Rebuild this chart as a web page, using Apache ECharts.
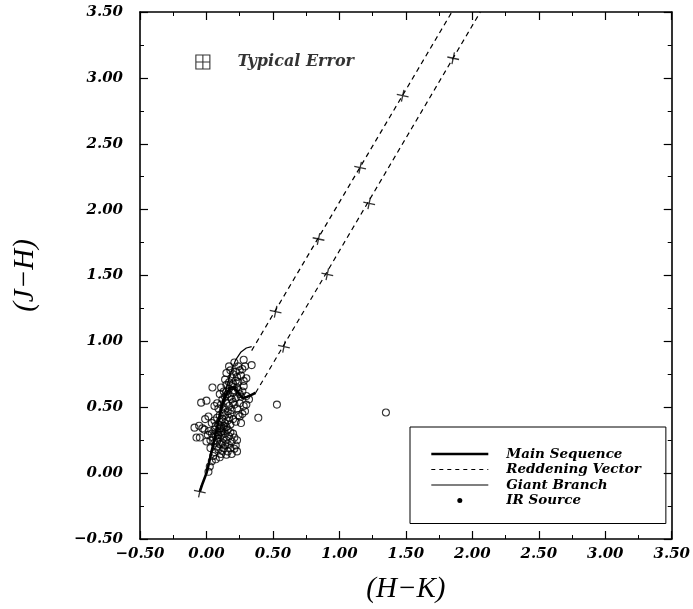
<!DOCTYPE html>
<html>
<head>
<meta charset="utf-8">
<script src="https://cdn.jsdelivr.net/npm/echarts@6/dist/echarts.min.js"></script>
<style>
  html, body { margin: 0; padding: 0; background: #fff; }
  #chart { width: 693px; height: 609px; }
</style>
</head>
<body>
<div id="chart"></div>
<script>
// two-colour diagram (J-H) vs (H-K)
const xTicks = [-0.5, 0, 0.5, 1, 1.5, 2, 2.5, 3, 3.5];
const yTicks = [-0.5, 0, 0.5, 1, 1.5, 2, 2.5, 3, 3.5];

const mainSequence = [
  [-0.05, -0.14], [-0.03, -0.08], [0.0, 0.0], [0.02, 0.08], [0.04, 0.17],
  [0.06, 0.26], [0.08, 0.35], [0.10, 0.44], [0.12, 0.52], [0.15, 0.60],
  [0.18, 0.65], [0.21, 0.65], [0.24, 0.61], [0.27, 0.57], [0.31, 0.58],
  [0.35, 0.60], [0.37, 0.61]
];
const giantBranch = [
  [0.10, 0.48], [0.13, 0.58], [0.16, 0.68], [0.19, 0.78], [0.22, 0.86],
  [0.26, 0.92], [0.30, 0.95], [0.34, 0.96]
];
const reddeningUpper = [[0.34, 0.93], [1.846, 3.5]];
const reddeningLower = [[0.37, 0.61], [2.06, 3.5]];
const reddeningMarks = [
  [0.52, 1.225], [0.843, 1.777], [1.156, 2.318], [1.476, 2.865],
  [0.583, 0.96], [0.909, 1.509], [1.224, 2.048], [1.856, 3.149],
  [-0.05, -0.14]
];
const typicalError = [[-0.027, 3.12]];

const stars = [
  [1.35, 0.46], [0.53, 0.52], [0.39, 0.42], [0.34, 0.82],
  [0.17, 0.81], [0.24, 0.81], [0.28, 0.86], [0.29, 0.81], [0.15, 0.76], [0.22, 0.77],
  [0.28, 0.70], [0.20, 0.75], [0.25, 0.78], [0.19, 0.72], [0.23, 0.73], [0.26, 0.74],
  [0.14, 0.71], [0.21, 0.84], [0.27, 0.79], [0.18, 0.78], [0.24, 0.69], [0.30, 0.72],
  [0.045, 0.65], [0.11, 0.65], [0.13, 0.62], [0.15, 0.67], [0.17, 0.64], [0.19, 0.66],
  [0.21, 0.63], [0.23, 0.65], [0.16, 0.60], [0.18, 0.58], [0.20, 0.61], [0.22, 0.57],
  [0.14, 0.58], [0.12, 0.56], [0.25, 0.60], [0.27, 0.62], [0.26, 0.58], [0.30, 0.585],
  [0.32, 0.56], [0.17, 0.69], [0.20, 0.68], [0.22, 0.70], [0.10, 0.60], [0.24, 0.63],
  [0.28, 0.66], [0.15, 0.62], [0.19, 0.56],
  [-0.04, 0.535], [0.0, 0.55], [0.06, 0.51], [0.09, 0.49], [0.11, 0.52], [0.13, 0.50],
  [0.15, 0.53], [0.17, 0.51], [0.19, 0.48], [0.21, 0.52], [0.12, 0.46], [0.14, 0.44],
  [0.16, 0.47], [0.18, 0.45], [0.23, 0.49], [0.25, 0.53], [0.28, 0.51], [0.30, 0.52],
  [0.29, 0.47], [0.10, 0.44], [0.08, 0.53], [0.20, 0.54], [0.27, 0.45], [0.24, 0.44],
  [0.015, 0.43], [-0.01, 0.41], [0.06, 0.40], [0.08, 0.42], [0.10, 0.39], [0.12, 0.41],
  [0.14, 0.38], [0.16, 0.40], [0.18, 0.37], [0.20, 0.41], [0.22, 0.39], [0.25, 0.43],
  [0.26, 0.38], [0.07, 0.36], [0.09, 0.37], [0.11, 0.355], [0.13, 0.36], [0.15, 0.35],
  [0.17, 0.42], [0.04, 0.38],
  [-0.09, 0.345], [-0.055, 0.36], [-0.03, 0.34], [-0.015, 0.33], [-0.075, 0.27], [-0.05, 0.27],
  [0.02, 0.32], [0.04, 0.30], [0.06, 0.33], [0.08, 0.31], [0.10, 0.34], [0.12, 0.32],
  [0.14, 0.30], [0.16, 0.33], [0.18, 0.31], [0.20, 0.30], [0.05, 0.27], [0.07, 0.28],
  [0.09, 0.26], [0.11, 0.29], [0.13, 0.27], [0.15, 0.25], [0.17, 0.28], [0.19, 0.24],
  [0.21, 0.27], [0.06, 0.23], [0.08, 0.24], [0.10, 0.22], [0.12, 0.23], [0.14, 0.21],
  [0.16, 0.22], [0.03, 0.25], [0.01, 0.29], [0.23, 0.25], [0.00, 0.24], [0.22, 0.21],
  [0.11, 0.31], [0.13, 0.34], [0.09, 0.29],
  [0.23, 0.165], [0.19, 0.145], [0.21, 0.185], [0.16, 0.165], [0.11, 0.145], [0.07, 0.105],
  [0.09, 0.18], [0.06, 0.16], [0.05, 0.13], [0.08, 0.20], [0.13, 0.19], [0.04, 0.09],
  [0.025, 0.05], [0.015, 0.01], [0.10, 0.12], [0.03, 0.19], [0.15, 0.14], [0.18, 0.19],
  [0.12, 0.17]
];
const irSources = [];

const serif = 'DejaVu Serif';
const labelFont = { fontFamily: serif, fontStyle: 'italic', fontWeight: 'bold', fontSize: 15, color: '#000' };
const fmt = v => (v < 0 ? '\u2212' : '') + Math.abs(v).toFixed(2);

function axis(pos, showLabel, name) {
  const isX = pos === 'bottom' || pos === 'top';
  const ticks = isX ? xTicks : yTicks;
  return {
    type: 'value',
    position: pos,
    min: ticks[0],
    max: ticks[ticks.length - 1],
    interval: 0.5,
    name: name || '',
    nameLocation: 'middle',
    nameGap: isX ? 36 : 100,
    nameTextStyle: { fontFamily: 'Liberation Serif', fontStyle: 'italic', fontSize: 29, color: '#000' },
    axisLine: { show: true, onZero: false, lineStyle: { color: '#000', width: 1.6 } },
    axisTick: { show: true, inside: true, length: 8, lineStyle: { color: '#000', width: 1.2 } },
    minorTick: { show: true, splitNumber: 2, length: 4, lineStyle: { color: '#000', width: 1 } },
    splitLine: { show: false },
    axisLabel: showLabel
      ? Object.assign({ show: true, formatter: fmt, margin: isX ? 8 : 17 }, labelFont)
      : { show: false }
  };
}

const chart = echarts.init(document.getElementById('chart'), null, { renderer: 'canvas' });

const option = {
  backgroundColor: '#fff',
  animation: false,
  color: ['#000'],
  grid: { left: 140, right: 20, top: 12, bottom: 70 },
  xAxis: [axis('bottom', true, '(H\u2212K)'), axis('top', false)],
  yAxis: [axis('left', true, '(J\u2212H)'), axis('right', false)],
  legend: {
    data: [
      { name: 'Main Sequence', lineStyle: { width: 2.6, color: '#000' } },
      { name: 'Reddening Vector', lineStyle: { width: 1, color: '#000', type: [4, 4] } },
      { name: 'Giant Branch', lineStyle: { width: 1.2, color: '#000' } },
      {
        name: 'IR Source',
        icon: 'path://M0,0M57,10M26,5a2.5,2.5 0 1,0 5,0a2.5,2.5 0 1,0 -5,0Z',
        itemStyle: { opacity: 1, color: '#000' }
      }
    ],
    orient: 'vertical',
    left: 410,
    top: 427,
    padding: [20, 25, 16, 20],
    itemWidth: 57,
    itemHeight: 10,
    itemGap: 1.5,
    borderColor: '#000',
    borderWidth: 1,
    // hide the symbol drawn in the middle of the line icons
    itemStyle: { opacity: 0 },
    textStyle: Object.assign({}, labelFont, { fontSize: 13.5, padding: [0, 0, 0, 13] })
  },
  series: [
    {
      name: 'Main Sequence', type: 'line', data: mainSequence, symbol: 'none',
      itemStyle: { color: '#000' },
      lineStyle: { color: '#000', width: 2.6 }, z: 4
    },
    {
      name: 'Reddening Vector', type: 'line', data: reddeningUpper, symbol: 'none',
      itemStyle: { color: '#000' },
      lineStyle: { color: '#000', width: 1.2, type: [5, 4] }
    },
    {
      name: 'Reddening Vector', type: 'line', data: reddeningLower, symbol: 'none',
      itemStyle: { color: '#000' },
      lineStyle: { color: '#000', width: 1.2, type: [5, 4] }
    },
    {
      name: 'Giant Branch', type: 'line', data: giantBranch, symbol: 'none',
      itemStyle: { color: '#000' },
      lineStyle: { color: '#000', width: 1.2 }
    },
    {
      name: 'IR Source', type: 'scatter', data: irSources, symbolSize: 5,
      itemStyle: { color: '#000' }
    },
    {
      name: 'stars', type: 'scatter', data: stars, symbol: 'circle', symbolSize: 7,
      itemStyle: { color: 'rgba(0,0,0,0)', borderColor: '#000', borderWidth: 1.1 }, z: 3
    },
    {
      name: 'marks', type: 'scatter', data: reddeningMarks,
      symbol: 'path://M0,5H10M5,0V10', symbolSize: 12, symbolRotate: -12,
      itemStyle: { color: 'rgba(0,0,0,0)', borderColor: '#000', borderWidth: 1.3 }, z: 5
    },
    {
      name: 'error', type: 'scatter', data: typicalError,
      symbol: 'path://M0,0H10V10H0ZM5,0V10M0,5H10', symbolSize: 14,
      itemStyle: { color: 'rgba(0,0,0,0)', borderColor: '#000', borderWidth: 1.1 },
      label: Object.assign({ show: true, position: 'right', distance: 27, formatter: 'Typical Error' },
        labelFont, { fontSize: 16 })
    }
  ]
};

chart.setOption(option);
</script>
</body>
</html>
